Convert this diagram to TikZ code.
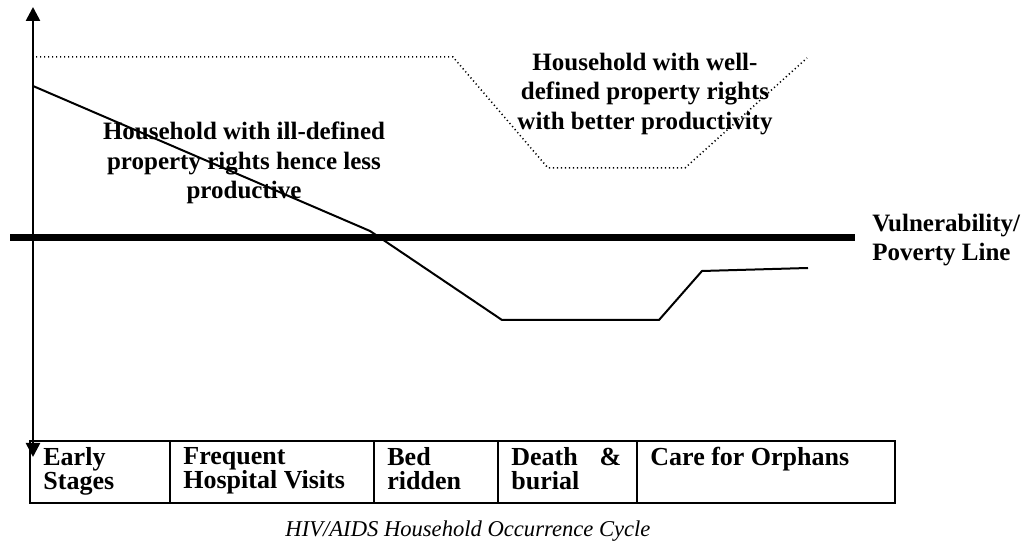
\documentclass[tikz,border=0pt]{standalone}
\usepackage{fontspec}
\setmainfont{Liberation Serif}
\usetikzlibrary{arrows.meta,positioning}
\definecolor{ink}{HTML}{000000}
\newcommand{\labelfont}{\fontsize{12.5}{14.6}\selectfont\bfseries}
\newcommand{\cellfont}{\fontsize{13}{12}\selectfont\bfseries}
\tikzset{
  >={Triangle[length=7pt,width=7pt]},
  every node/.style={text=ink,inner sep=0pt},
  axis/.style={<->,line width=1.3pt,draw=ink},
  povline/.style={line width=3.5pt,draw=ink},
  poorpath/.style={line width=1pt,draw=ink,line join=miter},
  richpath/.style={line width=0.75pt,draw=ink,dash pattern=on 0.6pt off 1.4pt},
  bigtext/.style={font=\labelfont,align=center},
  tablerule/.style={line width=1pt,draw=ink},
  cell/.style={font=\cellfont,align=left,anchor=north west},
  caption/.style={font=\fontsize{11.3}{13}\selectfont\itshape},
}

\begin{document}
\begin{tikzpicture}[x=0.5pt,y=-0.5pt]
  \useasboundingbox (0,0) rectangle (1029,544);

  % axis
  \coordinate (axtop) at (33,7);
  \coordinate (axbot) at (33,457);
  \draw[axis] (axbot) -- (axtop);

  % poverty line
  \coordinate (povL) at (10,238);
  \coordinate (povR) at (855,238);
  \draw[povline] (povL) -- (povR);

  % household paths
  \draw[richpath] (36,57) -- (453,57) -- (548,168) -- (685,168) -- (807,58);
  \draw[poorpath] (33,86) -- (370,231) -- (502,320) -- (659,320) -- (702,271) -- (808,268);

  \node[bigtext] (welltext) at (645,94) {Household with well-\\defined property rights\\with better productivity};
  \node[bigtext] (illtext) at (244,163) {Household with ill-defined\\property rights hence less\\productive};
  \node[bigtext,align=left,anchor=west] (povlabel) at (872,240) {Vulnerability/\\Poverty Line};

  % stages table
  \draw[tablerule] (30,441) rectangle (895,503);
  \foreach \x in {170,374,498,637}
    \draw[tablerule] (\x,441) -- (\x,503);
  \node[cell] (early) at (43,447) {Early\\Stages};
  \node[cell] (hospital) at (183,447) {Frequent\\Hospital Visits};
  \node[cell] (bed) at (387,447) {Bed\\ridden};
  \node[cell] (death) at (511,447) {\makebox[55pt]{Death\hfill\&}\\burial};
  \node[cell] (care) at (650,447) {Care for Orphans};

  \node[caption] (title) at (468,531) {HIV/AIDS Household Occurrence Cycle};
\end{tikzpicture}
\end{document}
